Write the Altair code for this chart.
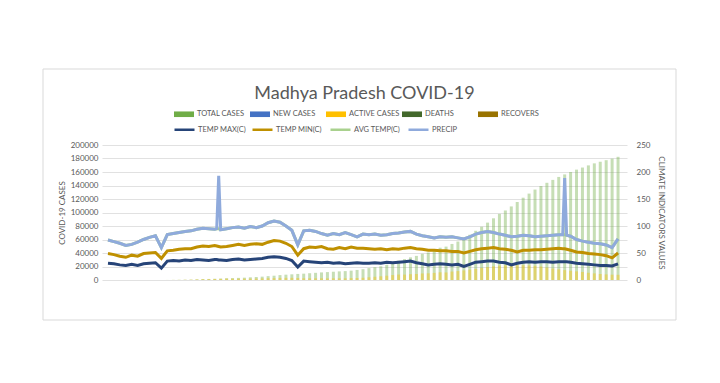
import altair as alt
import pandas as pd

# ---------------- data ----------------
# readings every 3 days from 01/03/2020 to 14/11/2020
grid_dates = pd.date_range("2020-03-01", periods=87, freq="3D").strftime("%Y-%m-%d").tolist()

total_cases = [
    0, 0, 0, 0, 0, 0, 4, 6, 15, 39,
    66, 154, 256, 411, 562, 987, 1407, 1552, 1846, 2168,
    2660, 2837, 3138, 3457, 3986, 4426, 4977, 5735, 6371, 7261,
    7891, 8420, 8996, 9401, 10049, 10641, 11244, 11724, 12261, 12798,
    13186, 13861, 14930, 16036, 17632, 19005, 20378, 22600, 25474, 28589,
    30968, 33535, 35734, 38740, 40734, 44433, 47854, 49470, 53414, 57000,
    61800, 67000, 72900, 78900, 85000, 91400, 97900, 103000, 109000, 115600,
    121900, 128000, 134000, 139300, 144000, 148300, 152700, 156400, 160000, 163500,
    166600, 169800, 172800, 175200, 177500, 179800, 182500,
]
active_cases = [
    0, 0, 0, 0, 0, 0, 4, 6, 14, 37,
    58, 140, 230, 370, 510, 870, 1200, 1300, 1500, 1700,
    2050, 2000, 2000, 2000, 2100, 2200, 2400, 2700, 2800, 3100,
    3200, 3200, 3000, 2600, 2500, 2500, 2500, 2400, 2500, 2500,
    2500, 2800, 3000, 3300, 4000, 4800, 5500, 6400, 7300, 8100,
    8000, 8600, 8900, 9700, 9900, 10500, 11400, 11200, 12500, 13200,
    14200, 15300, 16500, 17800, 19100, 20300, 21300, 21600, 21800, 22000,
    21800, 21600, 21000, 20000, 18500, 17000, 15800, 14600, 13700, 12800,
    11900, 10700, 9800, 8900, 8300, 7900, 7700,
]
temp_max = [
    31, 30, 28, 27, 29, 27, 30, 31, 32, 22,
    35, 36, 35, 37, 36, 38, 37, 36, 38, 37,
    36, 38, 39, 37, 38, 39, 40, 42, 43, 42,
    40, 36, 24, 35, 34, 33, 32, 33, 31, 32,
    30, 31, 32, 31, 31, 32, 31, 33, 32, 33,
    34, 35, 32, 30, 28, 29, 30, 29, 28, 29,
    25, 29, 33, 34, 35, 35, 33, 32, 28, 31,
    33, 34, 33, 34, 34, 33, 34, 34, 33, 31,
    30, 29, 28, 27, 27, 26, 30,
]
temp_min = [
    18, 17, 16, 15, 17, 17, 19, 19, 19, 18,
    19, 19, 22, 21, 22, 23, 26, 26, 26, 24,
    26, 26, 27, 27, 28, 28, 26, 28, 30, 30,
    28, 26, 22, 23, 27, 27, 30, 25, 26, 28,
    28, 30, 27, 28, 27, 25, 27, 23, 26, 24,
    25, 25, 26, 27, 27, 26, 24, 25, 25, 24,
    25, 24, 23, 24, 24, 25, 25, 25, 27, 21,
    22, 21, 23, 22, 23, 25, 25, 24, 22, 21,
    21, 20, 20, 20, 18, 15, 20,
]
avg_temp = [
    25, 24, 24, 22, 20, 26, 26, 29, 31, 20,
    30, 31, 31, 32, 33, 33, 33, 33, 30, 32,
    33, 33, 32, 32, 33, 30, 34, 36, 36, 35,
    32, 30, 19, 33, 31, 30, 24, 25, 29, 24,
    30, 23, 21, 26, 26, 28, 25, 28, 28, 30,
    30, 30, 27, 25, 25, 23, 26, 25, 27, 25,
    26, 27, 29, 30, 31, 28, 27, 26, 25, 29,
    28, 27, 24, 25, 25, 25, 25, 26, 26, 23,
    21, 21, 20, 20, 20, 19, 26,
]
precip = [
    0, 0, 0, 0, 0, 0, 0, 0, 0, 0,
    0, 0, 0, 0, 0, 0, 0, 0, 0, 0,
    0, 0, 0, 0, 0, 0, 0, 0, 0, 0,
    0, 0, 0, 0, 0, 0, 0, 0, 0, 0,
    0, 0, 0, 0, 0, 0, 0, 0, 0, 0,
    0, 0, 0, 0, 0, 0, 0, 0, 0, 0,
    0, 0, 0, 0, 0, 0, 0, 0, 0, 0,
    0, 0, 0, 0, 0, 0, 0, 105, 0, 0,
    0, 0, 0, 0, 0, 0, 0,
]
# extra daily readings around the two rainfall spikes
extra_dates = ["2020-04-25", "2020-04-26", "2020-10-17", "2020-10-19"]
extra_temp_max = [38, 37, 34, 34]
extra_temp_min = [25, 25, 24, 23]
extra_avg_temp = [32, 33, 26, 26]
extra_precip = [0, 98, 0, 0]

bar_series = ["TOTAL CASES", "NEW CASES", "ACTIVE CASES", "DEATHS", "RECOVERS"]
bar_colors = ["#70AD47", "#4472C4", "#FFC000", "#43682B", "#997300"]
line_series = ["TEMP MAX(C)", "TEMP MIN(C)", "AVG TEMP(C)", "PRECIP"]
line_colors = ["#264478", "#BF9000", "#A9D18E", "#8FAADC"]

month_ticks = [alt.DateTime(year=2020, month=m, date=2, utc=True) for m in range(3, 12)]
left_ticks = list(range(0, 200001, 20000))
right_ticks = [0, 50, 100, 150, 200, 250]

FONT = "Lato"
GREY = "#595959"

# ---------------- tables ----------------
bars_df = pd.DataFrame(
    {"date": grid_dates * 2,
     "series": ["TOTAL CASES"] * len(grid_dates) + ["ACTIVE CASES"] * len(grid_dates),
     "value": total_cases + active_cases}
)

all_dates = grid_dates + extra_dates
cols = [
    (line_series[0], temp_max + extra_temp_max),
    (line_series[1], temp_min + extra_temp_min),
    (line_series[2], avg_temp + extra_avg_temp),
    (line_series[3], precip + extra_precip),
]
rows = []
for i, (name, vals) in enumerate(cols):
    for d, v in zip(all_dates, vals):
        rows.append({"date": d, "series": name, "value": v, "order": i})
lines_df = pd.DataFrame(rows).sort_values(["order", "date"])

x_scale = alt.Scale(
    type="utc",
    domain=[alt.DateTime(year=2020, month=2, date=29, hours=12, utc=True),
            alt.DateTime(year=2020, month=11, date=16, utc=True)],
)

frame = alt.Chart(pd.DataFrame({"a": [0]})).mark_rect(
    fillOpacity=0, stroke="#D9D9D9", strokeWidth=1
).encode(x=alt.value(-59), x2=alt.value(574), y=alt.value(-76), y2=alt.value(175))

bars = alt.Chart(bars_df).mark_bar(size=3, opacity=0.4).encode(
    x=alt.X("date:T", scale=x_scale,
            axis=alt.Axis(values=month_ticks, labelExpr="utcFormat(datum.value, '%d/%m/%Y')",
                          title="DATES", grid=False, ticks=False, domainColor="#D9D9D9",
                          labelPadding=6, titlePadding=3, labelFlush=False)),
    y=alt.Y("value:Q", stack=None, scale=alt.Scale(domain=[0, 200000], nice=False),
            axis=alt.Axis(values=left_ticks, format="d", title="COVID-19 CASES",
                          domain=False, ticks=False, labelPadding=4, titlePadding=4,
                          gridColor="#D9D9D9", gridWidth=0.8)),
    color=alt.Color("series:N", scale=alt.Scale(domain=bar_series, range=bar_colors),
                    legend=alt.Legend(title=None, orient="none", legendX=71, legendY=-42,
                                      direction="horizontal", columns=5, gridAlign="all",
                                      symbolType="M-1,-0.28H1V0.28H-1Z", symbolSize=400,
                                      symbolOpacity=1, labelOffset=2, columnPadding=1,
                                      labelFontSize=7.5, padding=0)),
)

lines = alt.Chart(lines_df).transform_stack(
    stack="value", groupby=["date"], as_=["y0", "y1"],
    sort=[alt.SortField("order", order="ascending")],
).mark_line(strokeWidth=3).encode(
    x=alt.X("date:T", scale=x_scale, axis=None),
    y=alt.Y("y1:Q", scale=alt.Scale(domain=[0, 250], nice=False),
            axis=alt.Axis(orient="right", values=right_ticks, title="CLIMATE INDICATORS VALUES",
                          grid=False, domain=False, ticks=False, labelPadding=9, titlePadding=7)),
    stroke=alt.Stroke("series:N", scale=alt.Scale(domain=line_series, range=line_colors),
                      legend=alt.Legend(title=None, orient="none", legendX=71, legendY=-27,
                                        direction="horizontal", columns=4, gridAlign="all",
                                        symbolType="stroke", symbolSize=400, symbolStrokeWidth=2.5,
                                        labelOffset=2, columnPadding=1, labelFontSize=7.5,
                                        padding=0)),
    detail="order:O",
)

chart = alt.layer(frame, bars, lines).resolve_scale(y="independent").properties(
    width=525, height=135,
    autosize=alt.AutoSizeParams(type="none"),
    padding={"left": 94, "top": 137, "right": 80, "bottom": 62},
    title=alt.TitleParams("Madhya Pradesh COVID-19", font=FONT, fontSize=18, fontWeight="normal",
                          color=GREY, anchor="middle", offset=0, dy=34),
).configure_view(stroke=None).configure_axis(
    labelFont=FONT, labelFontSize=8, labelColor=GREY,
    titleFont=FONT, titleFontSize=8, titleFontWeight="normal", titleColor=GREY,
).configure_legend(
    labelFont=FONT, labelFontSize=7.5, labelColor=GREY,
)

chart.save("out.html", embed_options={"renderer": "svg", "actions": False})
